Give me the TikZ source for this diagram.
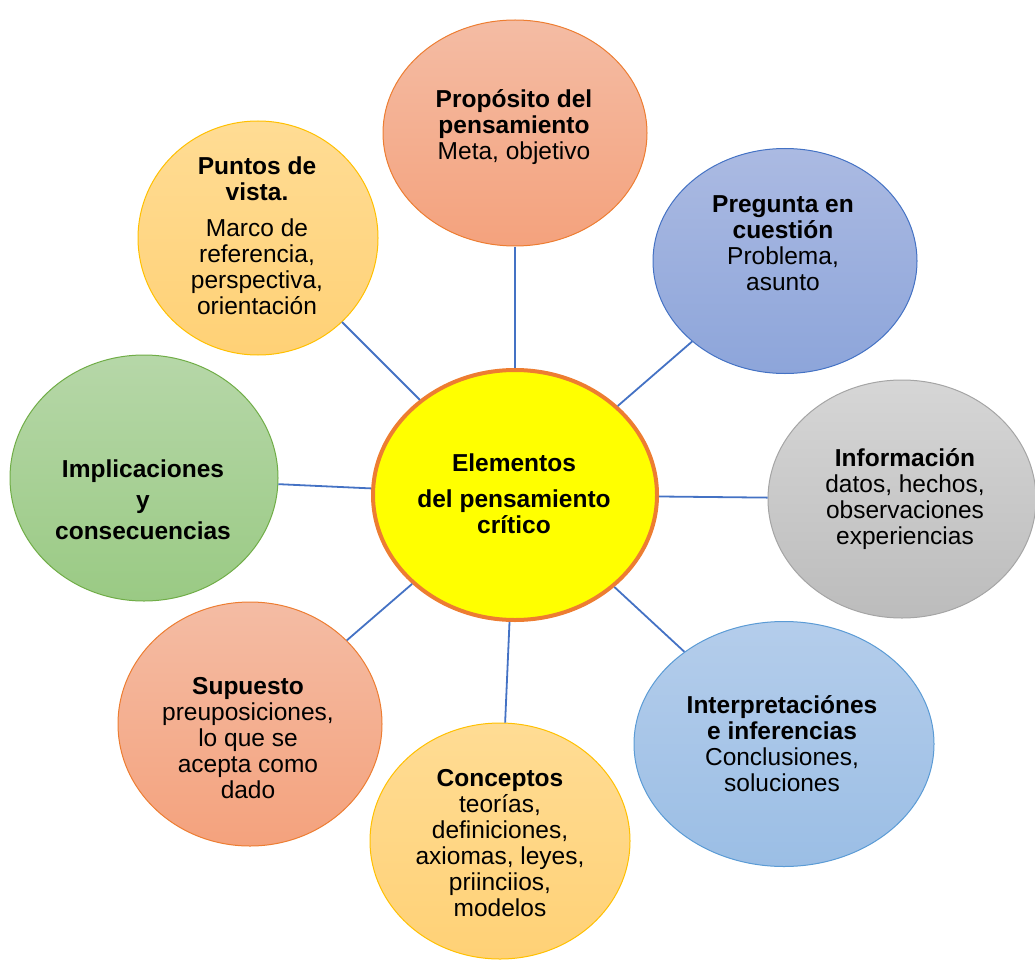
\documentclass[tikz,border=0pt]{standalone}
\usepackage{fontspec}
\setmainfont{Liberation Sans}
\usetikzlibrary{shapes.geometric}
\definecolor{linkblue}{HTML}{4472C4}
\definecolor{orangeB}{HTML}{ED7D31}
\definecolor{salmonT}{HTML}{F4BCA4}
\definecolor{salmonB}{HTML}{F4A27D}
\definecolor{blueT}{HTML}{ABBAE2}
\definecolor{blueB}{HTML}{8DA5DA}
\definecolor{grayT}{HTML}{D6D6D6}
\definecolor{grayB}{HTML}{BCBCBC}
\definecolor{grayD}{HTML}{A5A5A5}
\definecolor{lblueT}{HTML}{B4CDEB}
\definecolor{lblueB}{HTML}{9BBEE5}
\definecolor{lblueD}{HTML}{5B9BD5}
\definecolor{goldT}{HTML}{FFDC94}
\definecolor{goldB}{HTML}{FFD176}
\definecolor{goldD}{HTML}{FFC000}
\definecolor{greenT}{HTML}{B6D7A8}
\definecolor{greenB}{HTML}{9ACA84}
\definecolor{greenD}{HTML}{70AD47}
\definecolor{centfill}{HTML}{FFFF00}
\begin{document}
\begin{tikzpicture}[x=1pt,y=-1pt,
  bubble/.style={ellipse, inner sep=0pt, line width=1pt},
  salmonbub/.style={bubble, top color=salmonT, bottom color=salmonB, draw=orangeB},
  bluebub/.style={bubble, top color=blueT, bottom color=blueB, draw=linkblue},
  graybub/.style={bubble, top color=grayT, bottom color=grayB, draw=grayD},
  lbluebub/.style={bubble, top color=lblueT, bottom color=lblueB, draw=lblueD},
  goldbub/.style={bubble, top color=goldT, bottom color=goldB, draw=goldD},
  greenbub/.style={bubble, top color=greenT, bottom color=greenB, draw=greenD},
  conn/.style={draw=linkblue, line width=1.8pt},
  txt/.style={align=center, font=\fontsize{24.5}{26}\selectfont, text=black, inner sep=0pt}]
\useasboundingbox (0,0) rectangle (1035,960);

\node[salmonbub, minimum width=264pt, minimum height=226pt] (prop) at (515,133) {};
\node[bluebub, minimum width=264pt, minimum height=225pt] (preg) at (785,261) {};
\node[graybub, minimum width=268pt, minimum height=238pt] (info) at (902,499) {};
\node[lbluebub, minimum width=300pt, minimum height=245pt] (inter) at (784,744) {};
\node[goldbub, minimum width=260pt, minimum height=236pt] (conc) at (500,841) {};
\node[salmonbub, minimum width=264pt, minimum height=244pt] (sup) at (250,724) {};
\node[greenbub, minimum width=268pt, minimum height=246pt] (impl) at (144,478) {};
\node[goldbub, minimum width=240pt, minimum height=234pt] (punt) at (258,238) {};
\node[ellipse, inner sep=0pt, fill=centfill, draw=orangeB, line width=4pt,
      minimum width=284pt, minimum height=250pt] (cent) at (515,495) {};

\foreach \n in {prop,preg,info,inter,conc,sup,impl,punt}
  \draw[conn] (cent) -- (\n);

\node[txt] (centT) at (514,494) {\textbf{Elementos}\\[10pt]\textbf{del pensamiento}\\\textbf{crítico}};
\node[txt] (propT) at (514,127) {\textbf{Propósito del}\\\textbf{pensamiento}\\Meta, objetivo};
\node[txt] (pregT) at (783,243) {\textbf{Pregunta en}\\\textbf{cuestión}\\Problema,\\asunto};
\node[txt] (infoT) at (905,499) {\textbf{Información}\\datos, hechos,\\observaciones\\experiencias};
\node[txt] (interT) at (782,744) {\textbf{Interpretaciónes}\\\textbf{e inferencias}\\Conclusiones,\\soluciones};
\node[txt] (concT) at (500,843) {\textbf{Conceptos}\\teorías,\\definiciones,\\axiomas, leyes,\\priinciios,\\modelos};
\node[txt] (supT) at (248,738) {\textbf{Supuesto}\\preuposiciones,\\lo que se\\acepta como\\dado};
\node[txt] (implT) at (143,500) {\textbf{Implicaciones}\\[5pt]\textbf{y}\\[5pt]\textbf{consecuencias}};
\node[txt] (puntT) at (257,236) {\textbf{Puntos de}\\\textbf{vista.}\\[10pt]Marco de\\referencia,\\perspectiva,\\orientación};
\end{tikzpicture}
\end{document}
